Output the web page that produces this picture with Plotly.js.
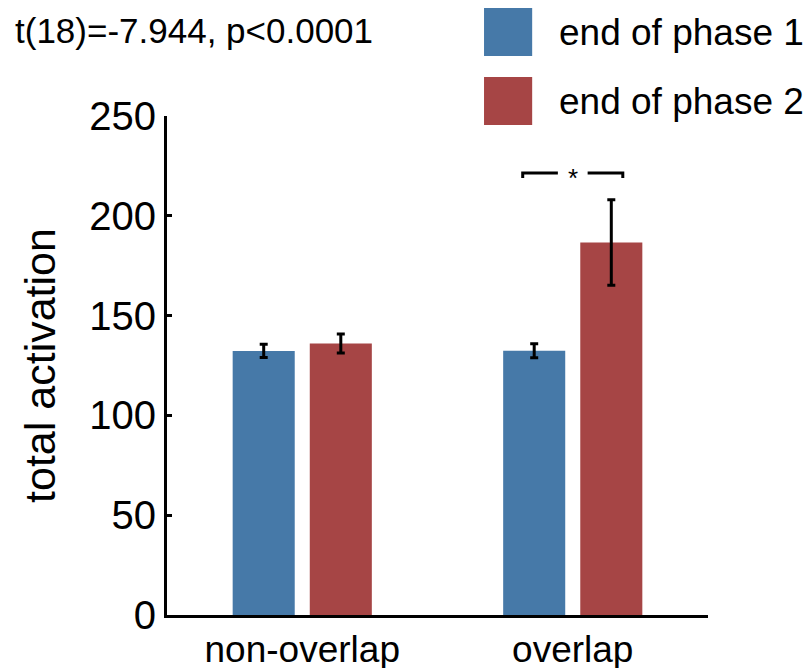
<!DOCTYPE html>
<html>
<head>
<meta charset="utf-8">
<script src="https://cdn.plot.ly/plotly-3.0.1.min.js"></script>
<style>html,body{margin:0;padding:0;background:#fff;}#chart{width:809px;height:668px;}</style>
</head>
<body>
<div id="chart"></div>
<script>
// ---- data ----
const categories = ['non-overlap', 'overlap'];
const seriesNames = ['end of phase 1', 'end of phase 2'];
const phase1 = [132.3, 132.4];
const phase1Err = [3.3, 3.5];
const phase2 = [136.0, 186.6];
const phase2Err = [4.8, 21.4];
const yTicks = [0, 50, 100, 150, 200, 250];
const statText = 't(18)=-7.944, p<0.0001';
const sigLabel = '*';
const sigY = 221.5;       // bracket height (data units)
const sigDrop = 2.5;      // bracket end-drop (data units)
const sigHalf = 0.185;    // half-span around the overlap category (category units)

const blue = '#4679a8';
const red = '#a64545';
const FONT = 'Liberation Sans, Arial, sans-serif';

const traces = [
  {
    type: 'bar', name: seriesNames[0], x: categories, y: phase1,
    marker: {color: blue},
    error_y: {type: 'data', array: phase1Err, visible: true, color: '#000', thickness: 3, width: 4}
  },
  {
    type: 'bar', name: seriesNames[1], x: categories, y: phase2,
    marker: {color: red},
    error_y: {type: 'data', array: phase2Err, visible: true, color: '#000', thickness: 3, width: 4}
  }
];

const overlapIdx = categories.indexOf('overlap');

const layout = {
  width: 809, height: 668,
  margin: {l: 167, r: 101, t: 116, b: 53},
  paper_bgcolor: '#fff', plot_bgcolor: '#fff',
  font: {family: FONT, color: '#000'},
  showlegend: false,
  barmode: 'group',
  bargap: 0.43,
  bargroupgap: 0.195,
  xaxis: {
    type: 'category', range: [-0.5, 1.5],
    showline: true, linecolor: '#000', linewidth: 3,
    ticks: '', showgrid: false, zeroline: false,
    tickfont: {family: FONT, size: 37, color: '#000'}
  },
  yaxis: {
    range: [0, 250], tickvals: yTicks, ticktext: yTicks.map(String),
    showline: true, linecolor: '#000', linewidth: 3,
    ticks: 'inside', ticklen: 5, tickwidth: 3, tickcolor: '#000',
    showgrid: false, zeroline: false,
    tickfont: {family: FONT, size: 40, color: '#000'},
    title: {text: 'total activation', font: {family: FONT, size: 43, color: '#000'}, standoff: 21}
  },
  shapes: [
    // significance bracket
    {type: 'path', xref: 'x', yref: 'y',
     path: `M ${overlapIdx - sigHalf} ${sigY - sigDrop} L ${overlapIdx - sigHalf} ${sigY} L ${overlapIdx - 0.055} ${sigY}`,
     line: {color: '#000', width: 3}},
    {type: 'path', xref: 'x', yref: 'y',
     path: `M ${overlapIdx + 0.055} ${sigY} L ${overlapIdx + sigHalf} ${sigY} L ${overlapIdx + sigHalf} ${sigY - sigDrop}`,
     line: {color: '#000', width: 3}},
    // legend swatches
    {type: 'rect', xref: 'paper', yref: 'paper', x0: 0.586, x1: 0.675, y0: 1.1202, y1: 1.2164,
     fillcolor: blue, line: {width: 0}},
    {type: 'rect', xref: 'paper', yref: 'paper', x0: 0.586, x1: 0.675, y0: 0.982, y1: 1.078,
     fillcolor: red, line: {width: 0}}
  ],
  annotations: [
    {text: sigLabel, xref: 'x', yref: 'y', x: overlapIdx, y: sigY, showarrow: false,
     font: {family: FONT, size: 26, color: '#000'}, yshift: -5},
    {text: statText, xref: 'paper', yref: 'paper', x: -0.284, y: 1.172, xanchor: 'left', yanchor: 'middle',
     showarrow: false, font: {family: FONT, size: 35, color: '#000'}},
    {text: seriesNames[0], xref: 'paper', yref: 'paper', x: 0.721, y: 1.1683, xanchor: 'left', yanchor: 'middle',
     showarrow: false, font: {family: FONT, size: 37, color: '#000'}},
    {text: seriesNames[1], xref: 'paper', yref: 'paper', x: 0.721, y: 1.030, xanchor: 'left', yanchor: 'middle',
     showarrow: false, font: {family: FONT, size: 37, color: '#000'}}
  ]
};

Plotly.newPlot('chart', traces, layout, {staticPlot: true, displayModeBar: false});
</script>
</body>
</html>
